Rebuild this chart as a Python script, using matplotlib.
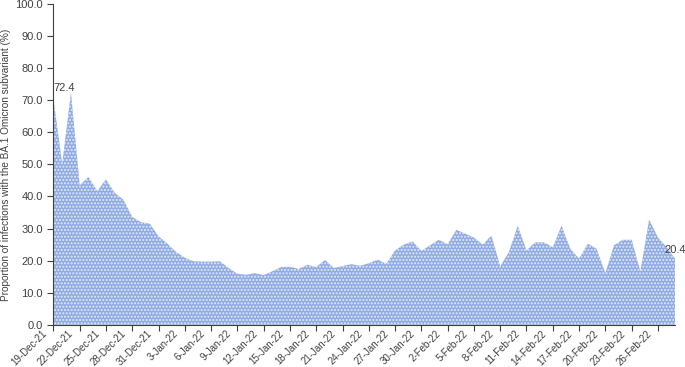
import numpy as np
import pandas as pd
import matplotlib
matplotlib.use("Agg")
import matplotlib.pyplot as plt
from matplotlib.transforms import ScaledTranslation

plt.rcParams['font.family'] = ['Liberation Sans', 'DejaVu Sans']
plt.rcParams['hatch.linewidth'] = 1.0

# daily proportion of BA.1 (%), 19-Dec-21 .. 28-Feb-22
dates = pd.date_range("2021-12-19", "2022-02-28", freq="D")
values = [70.5, 50.2, 72.4, 43.5, 46.1, 41.7, 45.3, 41.1, 39.0, 33.6,
          32.0, 31.5, 27.6, 25.3, 22.7, 20.9, 19.8, 19.7, 19.7, 19.8,
          17.7, 15.9, 15.6, 16.1, 15.5, 16.7, 18.0, 18.1, 17.4, 18.7,
          18.0, 20.2, 17.7, 18.3, 18.9, 18.4, 19.2, 20.3, 19.0, 23.2,
          25.0, 26.0, 23.0, 24.8, 26.5, 25.1, 29.6, 28.4, 27.2, 25.0,
          27.8, 18.2, 22.7, 30.9, 23.2, 25.7, 25.7, 24.2, 30.9, 23.7,
          20.6, 25.3, 23.7, 16.1, 24.8, 26.5, 26.5, 16.6, 32.8, 27.2,
          24.2, 20.4]
tick_step = 3

x = np.arange(len(values))
labels = [f"{d.day}-{d.strftime('%b-%y')}" for d in dates]

fig = plt.figure(figsize=(6.85, 3.67), dpi=100)
ax = fig.add_axes([0.078, 0.115, 0.908, 0.874])

ax.fill_between(x, values, 0, facecolor='#8fabe1', edgecolor='#e3eaf8',
                hatch='.....', linewidth=0)

ax.set_xlim(0, len(values) - 1)
ax.set_ylim(0, 100)
ax.set_yticks(np.arange(0, 101, 10))
ax.set_yticklabels([f"{v:.1f}" for v in np.arange(0, 101, 10)])
ax.set_xticks(x[::tick_step])
ax.set_xticklabels(labels[::tick_step], rotation=45, ha='right', va='center',
                   rotation_mode='anchor')
ax.tick_params(axis='both', colors='#404040', length=4, width=0.8,
               direction='out')
ax.tick_params(axis='y', labelsize=8)
ax.tick_params(axis='x', labelsize=7, pad=0)
shift = ScaledTranslation(-0.08, -0.015, fig.dpi_scale_trans)
for lbl in ax.get_xticklabels():
    lbl.set_transform(lbl.get_transform() + shift)
ax.set_ylabel("Proportion of infections with the BA.1 Omicron subvariant (%)",
              fontsize=7.2, color='#404040', labelpad=3)

for s in ['top', 'right']:
    ax.spines[s].set_visible(False)
for s in ['left', 'bottom']:
    ax.spines[s].set_color('#404040')
    ax.spines[s].set_linewidth(0.8)

ax.annotate(f"{values[2]:.1f}", (2, values[2]), xytext=(-5, 0),
            textcoords='offset points', ha='center', va='bottom',
            fontsize=8, color='#404040')
ax.annotate(f"{values[-1]:.1f}", (len(values) - 1, values[-1]),
            xytext=(0, 3), textcoords='offset points', ha='center',
            va='bottom', fontsize=8, color='#404040', annotation_clip=False)

fig.savefig("out.png", dpi=100)
